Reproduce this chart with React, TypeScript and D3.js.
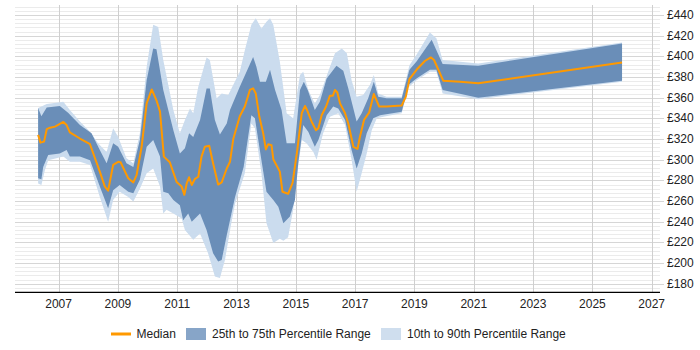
import { useEffect } from 'react';
import * as d3 from 'd3';

type Pt = [number, number];

// [decimal year, £ per day]
const median: Pt[] = [
  [2006.31, 324], [2006.39, 316.5], [2006.51, 317.5], [2006.6, 329.5], [2006.71, 331], [2006.88, 332],
  [2007.16, 336.5], [2007.27, 333.5], [2007.38, 326.5], [2007.72, 320.5], [2008.06, 315], [2008.17, 306],
  [2008.39, 288.5], [2008.56, 274], [2008.67, 270], [2008.84, 295], [2009.01, 298], [2009.09, 297.5],
  [2009.35, 282], [2009.52, 278], [2009.63, 285], [2009.8, 312.5], [2009.97, 354.5], [2010.14, 368],
  [2010.3, 357.5], [2010.42, 346.5], [2010.55, 303], [2010.75, 297.5], [2010.98, 278.5], [2011.15, 274],
  [2011.24, 266], [2011.32, 277], [2011.4, 283], [2011.49, 275.5], [2011.6, 281.5], [2011.71, 283.5],
  [2011.82, 303], [2011.93, 312.5], [2012.08, 313.5], [2012.21, 296.5], [2012.38, 276], [2012.5, 278],
  [2012.67, 291.5], [2012.78, 298], [2012.89, 320], [2013.11, 342], [2013.28, 351.5], [2013.45, 367.5],
  [2013.56, 369], [2013.65, 364], [2013.77, 341.5], [2013.9, 325.5], [2013.99, 310], [2014.07, 315],
  [2014.18, 314], [2014.24, 300.5], [2014.46, 288.5], [2014.55, 269], [2014.74, 267], [2014.89, 277.5],
  [2015.05, 309.5], [2015.2, 345], [2015.31, 352], [2015.38, 348], [2015.53, 337], [2015.68, 328.5],
  [2015.76, 330.5], [2015.87, 343], [2016.02, 351.5], [2016.15, 362], [2016.25, 362], [2016.32, 367.5],
  [2016.4, 365], [2016.49, 354.5], [2016.66, 345], [2016.77, 335], [2016.94, 312.5], [2017.08, 310.5],
  [2017.16, 322], [2017.3, 338.5], [2017.47, 345.5], [2017.63, 363.5], [2017.81, 351.5], [2018.06, 351.5],
  [2018.57, 352.5], [2018.71, 361], [2018.83, 378], [2019.07, 387], [2019.35, 395.5], [2019.55, 399],
  [2019.66, 396.5], [2019.97, 376.5], [2020.54, 375.5], [2021.15, 374], [2026, 394],
];

const p75: Pt[] = [
  [2006.31, 350], [2006.42, 342], [2006.6, 350.5], [2007.04, 352], [2007.32, 345.5], [2007.72, 333.5],
  [2008.11, 325.5], [2008.39, 309.5], [2008.62, 296.5], [2008.84, 316], [2009.01, 312.5], [2009.29, 296.5],
  [2009.52, 293], [2009.74, 319], [2009.97, 377], [2010.19, 407.5], [2010.3, 407], [2010.53, 367.5],
  [2010.87, 328.5], [2011.09, 306], [2011.26, 311], [2011.4, 325.5], [2011.54, 322], [2011.77, 338.5],
  [2011.99, 369], [2012.1, 369], [2012.27, 338.5], [2012.44, 324.5], [2012.67, 335], [2012.78, 348],
  [2013.11, 370.5], [2013.39, 388.5], [2013.56, 399.5], [2013.67, 390], [2013.79, 375.5], [2013.99, 375.5],
  [2014.13, 387], [2014.3, 367.5], [2014.52, 348], [2014.69, 316], [2014.97, 316], [2015.14, 367.5],
  [2015.27, 375.5], [2015.4, 367.5], [2015.64, 348], [2015.81, 356], [2016.04, 378.5], [2016.37, 391],
  [2016.6, 386], [2016.77, 369], [2017.05, 337], [2017.22, 345], [2017.44, 359.5], [2017.63, 375.5],
  [2017.78, 361], [2018.06, 359.5], [2018.57, 359.5], [2018.83, 387], [2019.07, 395], [2019.58, 416],
  [2019.95, 392.5], [2021.15, 391], [2026, 412.5],
];

const p25: Pt[] = [
  [2006.31, 282], [2006.42, 281], [2006.48, 293], [2006.65, 304.5], [2007.04, 306], [2007.27, 309.5],
  [2007.38, 303], [2007.72, 303], [2008.06, 299.5], [2008.39, 274], [2008.67, 253], [2008.84, 270.5],
  [2009.06, 275.5], [2009.35, 269], [2009.52, 267.5], [2009.74, 280.5], [2009.97, 312.5], [2010.19, 319],
  [2010.42, 303], [2010.53, 269], [2010.7, 267.5], [2010.87, 261], [2011.09, 256], [2011.2, 241.5],
  [2011.37, 248], [2011.49, 240], [2011.77, 248], [2011.99, 232], [2012.21, 209.5], [2012.38, 201.5],
  [2012.5, 203], [2012.67, 227], [2012.95, 264], [2013.24, 293], [2013.5, 343], [2013.62, 340],
  [2013.84, 299.5], [2014.01, 269], [2014.24, 261], [2014.41, 254.5], [2014.58, 238.5], [2014.8, 245],
  [2014.97, 261], [2015.08, 296.5], [2015.25, 333.5], [2015.42, 327], [2015.64, 312.5], [2015.76, 319],
  [2016.04, 343], [2016.26, 351.5], [2016.43, 349.5], [2016.66, 338.5], [2016.88, 309.5], [2017.05, 291.5],
  [2017.22, 306], [2017.39, 325.5], [2017.61, 340], [2017.84, 343], [2018.57, 346.5], [2018.8, 372.5],
  [2019.07, 378.5], [2019.52, 387], [2019.74, 387], [2019.95, 367.5], [2021.15, 360], [2026, 376.5],
];

const p90: Pt[] = [
  [2006.31, 350], [2006.6, 354], [2007.16, 356], [2007.38, 348], [2007.72, 337], [2008.06, 327],
  [2008.33, 316], [2008.62, 307.5], [2008.84, 330.5], [2009.01, 322], [2009.29, 301.5], [2009.52, 296.5],
  [2009.74, 325.5], [2009.97, 390], [2010.19, 430.5], [2010.36, 428.5], [2010.53, 396.5], [2010.87, 348],
  [2011.09, 325.5], [2011.26, 338.5], [2011.43, 349.5], [2011.54, 345], [2011.71, 370.5], [2011.99, 399],
  [2012.1, 396.5], [2012.33, 359.5], [2012.5, 364], [2012.72, 362.5], [2012.95, 376], [2013.11, 385],
  [2013.28, 406], [2013.5, 430.5], [2013.65, 437], [2013.84, 427], [2014.01, 433.5], [2014.13, 437],
  [2014.24, 430.5], [2014.46, 395], [2014.69, 345], [2014.91, 340], [2015.14, 382], [2015.25, 385],
  [2015.42, 367.5], [2015.64, 354.5], [2015.81, 362.5], [2016.09, 385], [2016.32, 403], [2016.55, 407.5],
  [2016.72, 403], [2016.88, 377], [2017.05, 361], [2017.27, 362.5], [2017.5, 372.5], [2017.63, 382],
  [2017.78, 364], [2018.06, 361], [2018.57, 361], [2018.83, 391.5], [2019.07, 401.5], [2019.52, 423],
  [2019.74, 417.5], [2019.95, 396.5], [2021.15, 393], [2026, 413.5],
];

const p10: Pt[] = [
  [2006.31, 277], [2006.42, 275.5], [2006.54, 290], [2006.65, 299.5], [2007.16, 303], [2007.38, 298],
  [2007.72, 298], [2008.06, 295], [2008.39, 264], [2008.67, 240], [2008.84, 261], [2009.06, 269],
  [2009.35, 264], [2009.52, 259.5], [2009.74, 272], [2009.97, 287], [2010.19, 291.5], [2010.42, 274],
  [2010.53, 248], [2010.64, 251.5], [2010.87, 248], [2011.15, 243], [2011.26, 232], [2011.54, 222.5],
  [2011.77, 228.5], [2012.04, 209.5], [2012.27, 187], [2012.44, 185.5], [2012.61, 203], [2012.8, 235],
  [2012.95, 257.5], [2013.28, 287], [2013.5, 335], [2013.62, 330.5], [2013.84, 287], [2014.01, 238.5],
  [2014.24, 219.5], [2014.46, 223.5], [2014.58, 221.5], [2014.74, 225], [2014.91, 251.5], [2015.05, 287],
  [2015.2, 319], [2015.36, 316], [2015.59, 307.5], [2015.7, 300], [2015.92, 325.5], [2016.15, 341.5],
  [2016.43, 345], [2016.66, 333.5], [2016.88, 300], [2017.05, 269], [2017.22, 287], [2017.39, 306],
  [2017.56, 328.5], [2017.73, 340], [2017.95, 341.5], [2018.57, 345], [2018.8, 370], [2019.07, 377],
  [2019.52, 385], [2019.74, 385], [2019.95, 364], [2021.15, 358.5], [2026, 375.5],
];

const yearTicks = d3.range(2007, 2028, 2);
const priceTicks = d3.range(180, 441, 20);
const minorTicks = d3.range(172, 449, 4);

const W = 700, H = 350;
const L = 15, R = 660, T = 5, B = 292.3;
const FONT = '"Liberation Sans", Arial, sans-serif';

export default function App() {
  useEffect(() => { document.body.style.margin = '0'; }, []);

  const x = d3.scaleLinear().domain([2005.53, 2027.28]).range([L, R]);
  const y = d3.scaleLinear().domain([171.7, 449.7]).range([B, T]);

  const line = d3.line<Pt>().x(d => x(d[0])).y(d => y(d[1]));
  // band = upper edge left to right, then lower edge back
  const band = (hi: Pt[], lo: Pt[]) => (line([...hi, ...lo.slice().reverse()]) ?? '') + 'Z';

  return (
    <svg width={W} height={H} style={{ display: 'block', fontFamily: FONT }}>
      {minorTicks.filter(v => v % 20 !== 0).map(v => (
        <line key={'m' + v} x1={L} x2={R} y1={Math.round(y(v)) + 0.5} y2={Math.round(y(v)) + 0.5} stroke="#ebebeb" />
      ))}
      {priceTicks.map(v => (
        <line key={'p' + v} x1={L} x2={R + 4} y1={Math.round(y(v)) + 0.5} y2={Math.round(y(v)) + 0.5} stroke="#d6d6d6" />
      ))}
      {yearTicks.map(t => (
        <line key={'v' + t} x1={Math.round(x(t)) + 0.5} x2={Math.round(x(t)) + 0.5} y1={T} y2={B} stroke="#cfcfcf" />
      ))}

      <path d={band(p90, p10)} fill="#cbdcee" />
      <path d={band(p75, p25)} fill="#6a8eb8" />
      <path d={line(median) ?? ''} fill="none" stroke="#ff9900" strokeWidth={2} strokeLinejoin="round" />

      <line x1={L} x2={R} y1={B} y2={B} stroke="#000" strokeWidth={1.3} />

      {yearTicks.map(t => (
        <text key={'xt' + t} x={x(t)} y={308} textAnchor="middle" fontSize={12} fill="#222">{t}</text>
      ))}
      {priceTicks.map(v => (
        <text key={'yt' + v} x={667} y={y(v) + 4} fontSize={12} fill="#222">£{v}</text>
      ))}

      <g fontSize={12} fill="#222">
        <line x1={111} x2={131} y1={334} y2={334} stroke="#ff9900" strokeWidth={3} />
        <text x={136.5} y={338}>Median</text>
        <rect x={186} y={328} width={20} height={12} fill="#87a5c8" />
        <text x={212} y={338}>25th to 75th Percentile Range</text>
        <rect x={381} y={328} width={20} height={12} fill="#cfdeee" />
        <text x={407} y={338}>10th to 90th Percentile Range</text>
      </g>
    </svg>
  );
}
